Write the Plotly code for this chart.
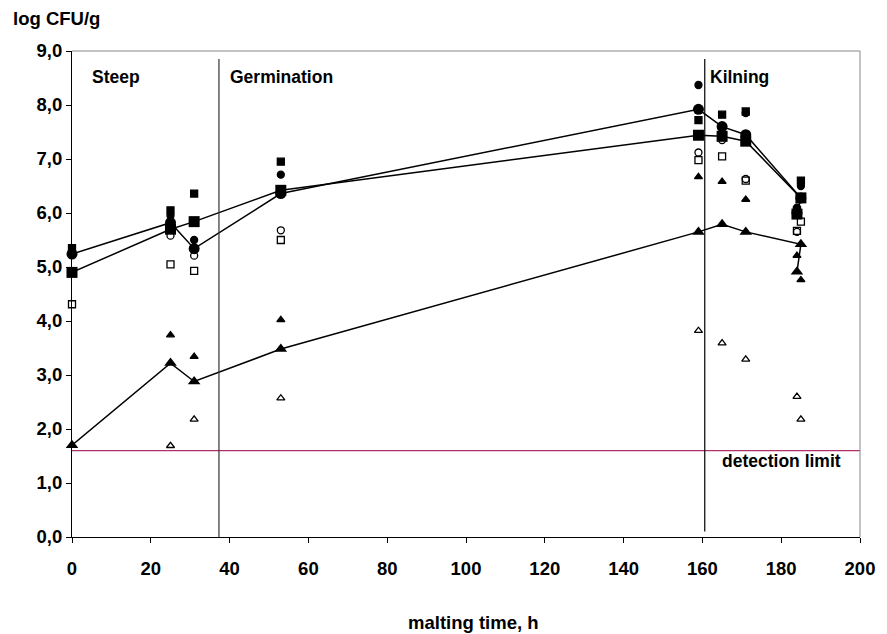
import plotly.graph_objects as go

# mean series (large markers with lines)
mean_x = [0, 25, 31, 53, 159, 165, 171, 185, 184]
mean_circle = [5.24, 5.82, 5.34, 6.36, 7.92, 7.60, 7.45, 6.28, 6.00]
mean_square = [4.90, 5.70, 5.84, 6.42, 7.44, 7.42, 7.33, 6.28, 5.98]
mean_triangle = [1.70, 3.22, 2.88, 3.48, 5.65, 5.79, 5.65, 5.42, 4.91]

# individual values (small markers)
fc_x = [25, 31, 53, 159, 171, 184, 185]
fc_y = [5.95, 5.50, 6.71, 8.37, 7.85, 6.10, 6.50]
fs_x = [0, 25, 31, 53, 159, 165, 171, 184, 185]
fs_y = [5.35, 6.05, 6.36, 6.95, 7.72, 7.82, 7.88, 6.05, 6.60]
oc_x = [25, 31, 53, 159, 165, 171, 184]
oc_y = [5.58, 5.21, 5.68, 7.12, 7.35, 6.63, 5.65]
os_x = [0, 25, 31, 53, 159, 165, 171, 184, 185]
os_y = [4.31, 5.05, 4.93, 5.50, 6.98, 7.05, 6.60, 5.67, 5.84]
ft_x = [25, 31, 53, 159, 165, 171, 184, 185]
ft_y = [3.74, 3.34, 4.02, 6.67, 6.58, 6.25, 5.21, 4.76]
ot_x = [25, 31, 53, 159, 165, 171, 184, 185]
ot_y = [1.69, 2.18, 2.57, 3.82, 3.59, 3.29, 2.60, 2.18]

detection_limit = 1.6
phase_lines = [37.3, 160.6]
phase_labels = ["Steep", "Germination", "Kilning"]
phase_label_x = [4.6, 39.6, 161.5]

x_ticks = list(range(0, 201, 20))
y_ticks = list(range(0, 10))

FONT = "Liberation Sans, Arial, sans-serif"
TXT = 17.5
TICK = 18.5

fig = go.Figure()

def small(x, y, symbol):
    fig.add_trace(go.Scatter(x=x, y=y, mode="markers", cliponaxis=False,
                             marker=dict(symbol=symbol, size=7, color="black",
                                         line=dict(color="black", width=1.3)),
                             showlegend=False))

small(fc_x, fc_y, "circle")
small(fs_x, fs_y, "square")
small(oc_x, oc_y, "circle-open")
small(os_x, os_y, "square-open")
small(ft_x, ft_y, "triangle-up")
small(ot_x, ot_y, "triangle-up-open")

for ys, sym in [(mean_circle, "circle"), (mean_square, "square"), (mean_triangle, "triangle-up")]:
    fig.add_trace(go.Scatter(x=mean_x, y=ys, mode="lines+markers", cliponaxis=False,
                             line=dict(color="black", width=1.5),
                             marker=dict(symbol=sym, size=11, color="black"),
                             showlegend=False))

# detection limit line
fig.add_shape(type="line", x0=0, x1=200, y0=detection_limit, y1=detection_limit,
              line=dict(color="#B0306A", width=1.2), layer="below")
# phase separators
fig.add_shape(type="line", x0=phase_lines[0], x1=phase_lines[0], y0=0, y1=8.85,
              line=dict(color="#333333", width=1.2))
fig.add_shape(type="line", x0=phase_lines[1], x1=phase_lines[1], y0=0.1, y1=8.85,
              line=dict(color="black", width=1.2))
# top/right frame
fig.add_shape(type="line", xref="paper", yref="paper", x0=0, x1=1, y0=1, y1=1,
              line=dict(color="#888888", width=1))
fig.add_shape(type="line", xref="paper", yref="paper", x0=1, x1=1, y0=0, y1=1,
              line=dict(color="#888888", width=1))

for lab, lx in zip(phase_labels, phase_label_x):
    fig.add_annotation(x=lx, y=8.52, text="<b>%s</b>" % lab, showarrow=False,
                       xanchor="left", yanchor="middle",
                       font=dict(family=FONT, size=TXT, color="black"))

fig.add_annotation(x=164.5, y=1.4, text="<b>detection limit</b>", showarrow=False,
                   xanchor="left", yanchor="middle",
                   font=dict(family=FONT, size=TXT, color="black"))

fig.add_annotation(xref="paper", yref="paper", x=-0.0777, y=1.067,
                   text="<b>log CFU/g</b>", showarrow=False, xanchor="left", yanchor="middle",
                   font=dict(family=FONT, size=TICK, color="black"))
fig.add_annotation(xref="paper", yref="paper", x=0.509, y=-0.176,
                   text="<b>malting time, h</b>", showarrow=False, xanchor="center", yanchor="middle",
                   font=dict(family=FONT, size=TICK, color="black"))

fig.update_layout(
    width=887, height=634,
    margin=dict(l=72, r=21, t=51, b=97),
    paper_bgcolor="white", plot_bgcolor="white",
    separators=",.",
    font=dict(family=FONT, size=TICK, color="black"),
    xaxis=dict(range=[0, 200], tickvals=x_ticks, ticks="outside", ticklen=5,
               tickcolor="black", showline=True, linecolor="black", linewidth=1,
               showgrid=False, zeroline=False, ticklabelstandoff=10,
               tickfont=dict(family=FONT, size=TICK, color="black", weight="bold")),
    yaxis=dict(range=[0, 9], tickvals=y_ticks, tickformat=".1f", ticks="outside", ticklen=5,
               tickcolor="black", showline=True, linecolor="black", linewidth=1,
               showgrid=False, zeroline=False,
               tickfont=dict(family=FONT, size=TICK, color="black", weight="bold")),
)

fig.write_html("out.html")
